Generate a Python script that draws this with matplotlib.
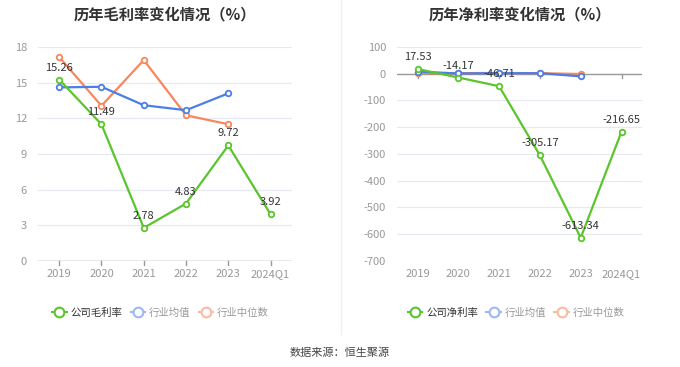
import matplotlib
matplotlib.use("Agg")
import matplotlib.pyplot as plt
from matplotlib.lines import Line2D

plt.rcParams['font.family'] = ['Noto Sans CJK SC', 'DejaVu Sans']

categories = ["2019", "2020", "2021", "2022", "2023", "2024Q1"]
gross_company = [15.26, 11.49, 2.78, 4.83, 9.72, 3.92]
gross_avg = [14.6, 14.65, 13.1, 12.68, 14.1]
gross_median = [17.15, 13.05, 16.9, 12.25, 11.5]
net_company = [17.53, -14.17, -46.71, -305.17, -613.34, -216.65]
net_avg = [8.0, 1.0, 2.0, 2.0, -10.0]
net_median = [2.0, 2.0, 3.0, 2.0, -1.0]

GREEN = '#5ac52c'
BLUE = '#4b7fe6'
ORANGE = '#f7875d'
GRID = '#e6e9f2'
AXIS = '#9a9a9a'
TICKC = '#999999'

fig = plt.figure(figsize=(6.8, 3.67), dpi=100)

def draw(ax, comp, avg, med, ylim, yticks, title):
    x = list(range(len(categories)))
    ax.set_xlim(-0.5, len(categories) - 0.5)
    ax.set_ylim(*ylim)
    ax.set_yticks(yticks)
    ax.set_yticklabels([str(t) for t in yticks])
    ax.grid(axis='y', color=GRID, linewidth=0.8)
    ax.set_axisbelow(True)
    for s in ['top', 'right', 'left', 'bottom']:
        ax.spines[s].set_visible(False)
    ax.axhline(0, color=AXIS, linewidth=1.0, zorder=1)
    ax.set_xticks(x)
    ax.set_xticklabels(categories)
    ax.tick_params(axis='x', length=0, colors=TICKC, labelsize=8, pad=6)
    ax.tick_params(axis='y', length=0, colors=TICKC, labelsize=8, pad=8)
    yr = ylim[1] - ylim[0]
    for xi in x:
        ax.plot([xi, xi], [0, -yr * 0.018], color=AXIS, linewidth=1.0, zorder=1, clip_on=False)
    mk = dict(marker='o', markersize=4, markerfacecolor='white', markeredgewidth=1.3, linewidth=1.6)
    ax.plot(x[:len(med)], med, color=ORANGE, zorder=3, **mk)
    ax.plot(x[:len(avg)], avg, color=BLUE, zorder=3, **mk)
    ax.plot(x, comp, color=GREEN, zorder=4, **mk)
    for xi, v in zip(x, comp):
        ax.annotate(f"{v:.2f}", (xi, v), xytext=(0, 5), textcoords='offset points',
                    ha='center', va='bottom', fontsize=8, color='#333333', zorder=5)
    ax.set_title(title, fontsize=11, fontweight='bold', color='#333333', pad=20)

ax1 = fig.add_axes([0.056, 0.289, 0.373, 0.583])
draw(ax1, gross_company, gross_avg, gross_median, (0, 18), [0, 3, 6, 9, 12, 15, 18],
     "历年毛利率变化情况（%）")
ax2 = fig.add_axes([0.584, 0.289, 0.360, 0.583])
draw(ax2, net_company, net_avg, net_median, (-700, 100), list(range(-700, 101, 100)),
     "历年净利率变化情况（%）")

def legend(cx, label):
    hk = dict(marker='o', markersize=7, markerfacecolor='white', markeredgewidth=1.5, linewidth=1.5)
    handles = [
        Line2D([], [], color=GREEN, **hk),
        Line2D([], [], color='#9db8f2', **hk),
        Line2D([], [], color='#fbbba3', **hk),
    ]
    leg = fig.legend(handles, [label, "行业均值", "行业中位数"], loc='center', bbox_to_anchor=(cx, 0.147),
                     ncol=3, frameon=False, fontsize=7.5, handlelength=1.4, handletextpad=0.35,
                     columnspacing=0.8)
    for t, c in zip(leg.get_texts(), ['#333333', '#999999', '#999999']):
        t.set_color(c)

legend(0.236, "公司毛利率")
legend(0.759, "公司净利率")

fig.add_artist(Line2D([0.502, 0.502], [0.09, 1.0], color='#f0f0f0', linewidth=1.0))
fig.text(0.5, 0.04, "数据来源：恒生聚源", ha='center', va='center', fontsize=8, color='#444444')

fig.savefig("out.png", dpi=100)
